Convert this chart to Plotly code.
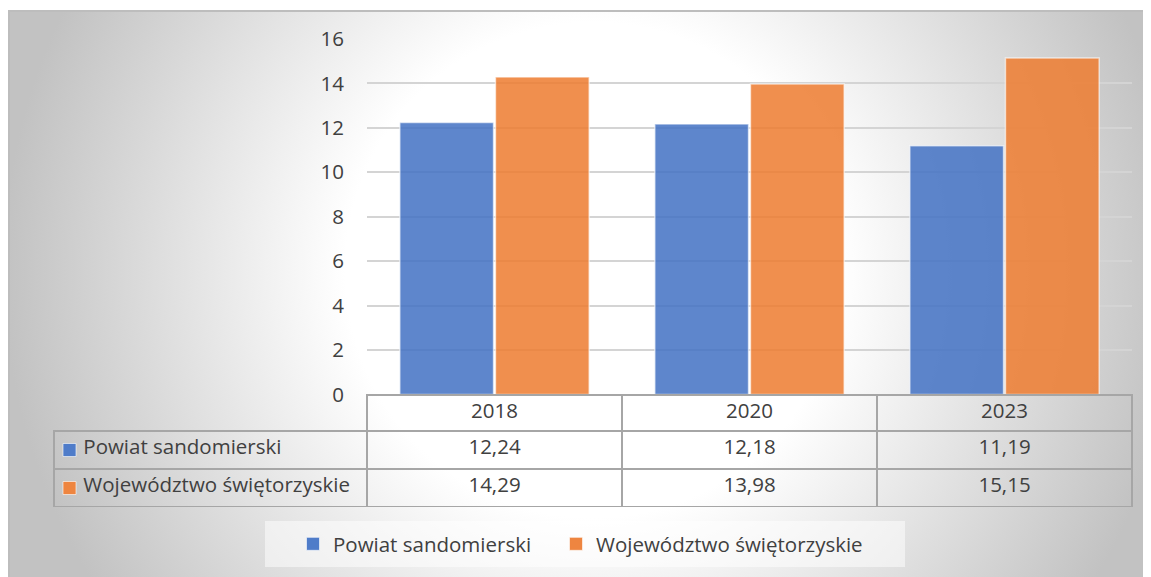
import base64

import plotly.graph_objects as go

# --- data -------------------------------------------------------------
years = ["2018", "2020", "2023"]
powiat = [12.24, 12.18, 11.19]
wojewodztwo = [14.29, 13.98, 15.15]
series_names = ["Powiat sandomierski", "Województwo świętorzyskie"]
y_ticks = [0, 2, 4, 6, 8, 10, 12, 14, 16]

BLUE = "rgba(68,114,196,0.86)"
ORANGE = "rgba(237,125,49,0.86)"
KEY_BLUE = "#4f7cc9"
KEY_ORANGE = "#ee8540"
GRID = "#a6a6a6"
TEXT = "#404040"
FONT = "Open Sans, sans-serif"
FSIZE = 20.5

# the page body has an 8px margin, so the figure sits at (8, 8)
OFF = 8
W, H = 1151 - OFF, 577 - OFF
# plot area in page pixels: x 54..1132, y 39..507
L, R, T, B = 54 - OFF, 1151 - 1132, 39 - OFF, 577 - 507
PW, PH = W - L - R, H - T - B


def px_x(px):
    return (px - OFF - L) / PW


def px_y(py):
    return (H - B - (py - OFF)) / PH


def fmt(v):
    return f"{v:.2f}".replace(".", ",")


# soft radial grey background like the Excel chart area
bg_svg = (
    "<svg xmlns='http://www.w3.org/2000/svg' width='1143' height='567'>"
    "<defs><radialGradient id='g' gradientUnits='userSpaceOnUse' cx='585' cy='260' r='590'>"
    "<stop offset='0' stop-color='#ffffff'/><stop offset='0.42' stop-color='#ffffff'/>"
    "<stop offset='1' stop-color='#c2c2c2'/></radialGradient></defs>"
    "<rect x='0' y='0' width='1143' height='567' fill='url(#g)'/>"
    "<path d='M1 567 L1 1 L1143 1' fill='none' stroke='#bdbdbd' stroke-width='2'/>"
    "</svg>"
)
bg_src = "data:image/svg+xml;base64," + base64.b64encode(bg_svg.encode()).decode()

fig = go.Figure()
for name, vals, col in [(series_names[0], powiat, BLUE), (series_names[1], wojewodztwo, ORANGE)]:
    fig.add_trace(go.Bar(
        x=years, y=vals, name=name, showlegend=False,
        marker=dict(color=col, line=dict(color="rgba(255,255,255,0.6)", width=1.5)),
    ))
# legend-only proxies (one legend each) so keys are bigger squares and spaced like Excel
for name, col, lg in [(series_names[0], KEY_BLUE, "legend"), (series_names[1], KEY_ORANGE, "legend2")]:
    fig.add_trace(go.Scatter(
        x=[None], y=[None], name=name, mode="markers", legend=lg,
        marker=dict(symbol="square", size=13, color=col,
                    line=dict(color="rgba(255,255,255,0.6)", width=1)),
    ))

NB = "\u00a0"
fig.add_trace(go.Table(
    domain=dict(x=[0, 1], y=[0, px_y(395)]),
    columnwidth=[313, 255, 255, 255],
    header=dict(
        values=[""] + years,
        height=36,
        align="center",
        fill=dict(color="rgba(0,0,0,0)"),
        line=dict(color=["rgba(0,0,0,0)", GRID, GRID, GRID], width=2),
        font=dict(family=FONT, size=FSIZE, color=TEXT),
    ),
    cells=dict(
        values=[
            [NB * 4 + s for s in series_names],
            [fmt(powiat[0]), fmt(wojewodztwo[0])],
            [fmt(powiat[1]), fmt(wojewodztwo[1])],
            [fmt(powiat[2]), fmt(wojewodztwo[2])],
        ],
        height=38,
        align=["left", "center", "center", "center"],
        fill=dict(color="rgba(0,0,0,0)"),
        line=dict(color=GRID, width=2),
        font=dict(family=FONT, size=FSIZE, color=TEXT),
    ),
))

# legend keys inside the table's label column
keys = []
for row_top, col in [(431, KEY_BLUE), (469, KEY_ORANGE)]:
    keys.append(dict(
        type="rect", xref="paper", yref="paper",
        x0=px_x(63), x1=px_x(76), y0=px_y(row_top + 25.5), y1=px_y(row_top + 12.5),
        fillcolor=col, line=dict(color="rgba(255,255,255,0.6)", width=1), layer="above",
    ))

legend_style = dict(
    orientation="h", xanchor="left", yanchor="middle", y=px_y(544),
    bgcolor="rgba(0,0,0,0)", itemwidth=30,
    font=dict(family=FONT, size=FSIZE, color=TEXT),
)

fig.update_layout(
    width=W, height=H,
    margin=dict(l=L, r=R, t=T, b=B),
    paper_bgcolor="white",
    plot_bgcolor="rgba(0,0,0,0)",
    font=dict(family=FONT, size=FSIZE, color=TEXT),
    barmode="group",
    bargap=0.25,
    bargroupgap=0.02,
    showlegend=True,
    legend=dict(legend_style, x=px_x(293)),
    legend2=dict(legend_style, x=px_x(556)),
    images=[dict(
        source=bg_src, xref="paper", yref="paper",
        x=px_x(8), y=px_y(10), sizex=1143 / PW, sizey=567 / PH,
        xanchor="left", yanchor="top", sizing="stretch", layer="below",
    )],
    shapes=[dict(
        type="rect", xref="paper", yref="paper",
        x0=px_x(265), x1=px_x(905), y0=px_y(567), y1=px_y(521),
        fillcolor="rgba(255,255,255,0.5)", line=dict(width=0), layer="below",
    )] + keys,
)
fig.update_xaxes(
    domain=[px_x(367), 1],
    showticklabels=False, showgrid=False, showline=False, zeroline=False,
)
fig.update_yaxes(
    domain=[px_y(394.5), 1],
    range=[0, 16], tickvals=y_ticks,
    showgrid=True, gridcolor="#d4d4d4", gridwidth=1.5,
    zeroline=True, zerolinecolor="#9a9a9a", zerolinewidth=2,
    ticklabelstandoff=22,
    tickfont=dict(family=FONT, size=FSIZE, color=TEXT),
)

fig.write_html("out.html")
